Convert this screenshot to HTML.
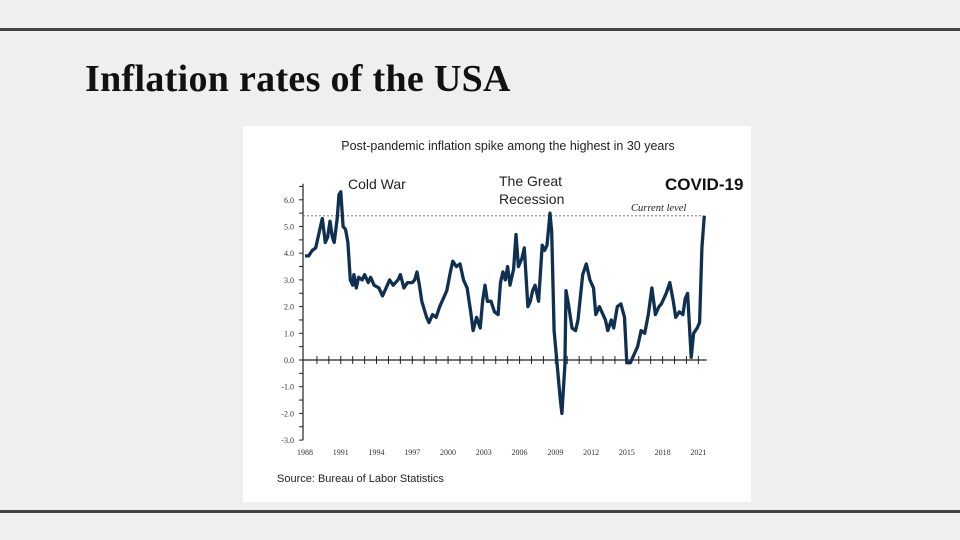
<!DOCTYPE html>
<html><head><meta charset="utf-8"><style>
body{margin:0;width:960px;height:540px;background:#efefef;overflow:hidden;position:relative;font-family:"Liberation Sans",sans-serif}
.hl{position:absolute;left:0;width:960px;height:3px;background:#444}
#title{position:absolute;left:85px;top:57px;font-family:"Liberation Serif",serif;font-size:38px;color:#111;margin:0;font-weight:bold;letter-spacing:0.3px}
#card{position:absolute;left:243px;top:126px;width:508px;height:376px;background:#fff}
</style></head><body>
<div class="hl" style="top:28px"></div>
<div class="hl" style="top:510px"></div>
<h1 id="title">Inflation rates of the USA</h1>
<div id="card"></div>
<svg id="chart" width="960" height="540" style="position:absolute;left:0;top:0">
<text x="508" y="150" text-anchor="middle" font-size="12.5" fill="#222">Post-pandemic inflation spike among the highest in 30 years</text>
<text x="348" y="189" font-size="14" fill="#222">Cold War</text>
<text x="499" y="186" font-size="14" fill="#222">The Great</text>
<text x="499" y="204" font-size="14" fill="#222">Recession</text>
<text x="665" y="190" font-size="17" font-weight="bold" fill="#111">COVID-19</text>
<text x="631" y="211" font-size="10.5" font-style="italic" font-family="Liberation Serif,serif" fill="#222">Current level</text>
<text x="277" y="482" font-size="11" fill="#222">Source: Bureau of Labor Statistics</text>
<g id="axes"></g>
<path id="line" fill="none" stroke="#0f3050" stroke-width="3.3" stroke-linejoin="round"/>
</svg>
<script>
const years=[1988.0,1988.3,1988.6,1988.9,1989.2,1989.45,1989.7,1989.9,1990.1,1990.3,1990.45,1990.7,1990.85,1991.0,1991.2,1991.4,1991.6,1991.8,1992.0,1992.1,1992.3,1992.5,1992.8,1993.0,1993.3,1993.5,1993.8,1994.2,1994.5,1994.8,1995.1,1995.4,1995.8,1996.0,1996.3,1996.6,1997.0,1997.2,1997.4,1997.6,1997.8,1998.2,1998.4,1998.7,1999.0,1999.3,1999.6,1999.9,2000.2,2000.4,2000.7,2001.0,2001.3,2001.6,2001.9,2002.1,2002.4,2002.7,2002.9,2003.1,2003.3,2003.6,2003.9,2004.2,2004.4,2004.6,2004.8,2005.0,2005.2,2005.5,2005.7,2005.9,2006.2,2006.4,2006.7,2006.9,2007.1,2007.3,2007.6,2007.9,2008.1,2008.3,2008.55,2008.7,2008.9,2009.1,2009.4,2009.55,2009.8,2009.9,2010.1,2010.4,2010.7,2010.9,2011.3,2011.6,2011.9,2012.2,2012.4,2012.7,2012.9,2013.2,2013.4,2013.7,2013.9,2014.2,2014.5,2014.8,2015.0,2015.3,2015.6,2015.9,2016.2,2016.5,2016.8,2017.1,2017.4,2017.7,2017.9,2018.3,2018.6,2018.9,2019.1,2019.4,2019.7,2019.9,2020.1,2020.4,2020.6,2020.9,2021.1,2021.3,2021.5];
const rates=[3.9,3.9,4.1,4.2,4.8,5.3,4.4,4.6,5.2,4.6,4.4,5.3,6.2,6.3,5.0,4.9,4.4,3.0,2.8,3.2,2.7,3.1,3.0,3.2,2.9,3.1,2.8,2.7,2.4,2.7,3.0,2.8,3.0,3.2,2.7,2.9,2.9,3.0,3.3,2.8,2.2,1.6,1.4,1.7,1.6,2.0,2.3,2.6,3.3,3.7,3.5,3.6,3.0,2.7,1.8,1.1,1.6,1.2,2.2,2.8,2.2,2.2,1.8,1.7,2.9,3.3,3.0,3.5,2.8,3.4,4.7,3.5,3.8,4.2,2.0,2.2,2.6,2.8,2.2,4.3,4.1,4.3,5.5,4.8,1.1,0.1,-1.4,-2.0,-0.2,2.6,2.1,1.2,1.1,1.5,3.2,3.6,3.0,2.7,1.7,2.0,1.8,1.5,1.1,1.5,1.2,2.0,2.1,1.6,-0.1,-0.1,0.2,0.5,1.1,1.0,1.7,2.7,1.7,2.0,2.1,2.5,2.9,2.2,1.6,1.8,1.7,2.3,2.5,0.1,1.0,1.2,1.4,4.2,5.4];
const yTicks=[6,5,4,3,2,1,0,-1,-2,-3];
const xTicks=[1988,1991,1994,1997,2000,2003,2006,2009,2012,2015,2018,2021];
const currentLevel=5.4;
const X=y=>305+(y-1988)*11.92;
const Y=v=>360-v*26.7;
const NS='http://www.w3.org/2000/svg';
const g=document.getElementById('axes');
function mk(t,a){const e=document.createElementNS(NS,t);for(const k in a)e.setAttribute(k,a[k]);g.appendChild(e);return e;}
let e=mk('line',{x1:303,x2:303,y1:Y(6.6),y2:Y(-3),stroke:'#222','stroke-width':1.2});


e=mk('line',{x1:303,x2:X(2021.7),y1:Y(0),y2:Y(0),stroke:'#222','stroke-width':1.2});


for(let v=-3;v<=6.5;v+=0.5){mk('line',{x1:299,x2:303,y1:Y(v),y2:Y(v),stroke:'#222','stroke-width':1});}
yTicks.forEach(v=>{const t=mk('text',{x:294,y:Y(v)+3,'text-anchor':'end','font-size':8,'font-family':'Liberation Serif,serif',fill:'#333'});t.textContent=v.toFixed(1);

});
for(let y=1989;y<=2021;y++){mk('line',{x1:X(y),x2:X(y),y1:Y(0)-4,y2:Y(0)+4,stroke:'#222','stroke-width':1});}
xTicks.forEach(y=>{const t=mk('text',{x:X(y),y:455,'text-anchor':'middle','font-size':8,'font-family':'Liberation Serif,serif',fill:'#333'});t.textContent=y;

});
e=mk('line',{x1:303,x2:X(2021.5),y1:Y(currentLevel),y2:Y(currentLevel),stroke:'#666','stroke-width':0.8,'stroke-dasharray':'2,2'});


document.getElementById('line').setAttribute('d',years.map((y,i)=>(i?'L':'M')+X(y).toFixed(1)+','+Y(rates[i]).toFixed(1)).join(''));
</script>
</body></html>
